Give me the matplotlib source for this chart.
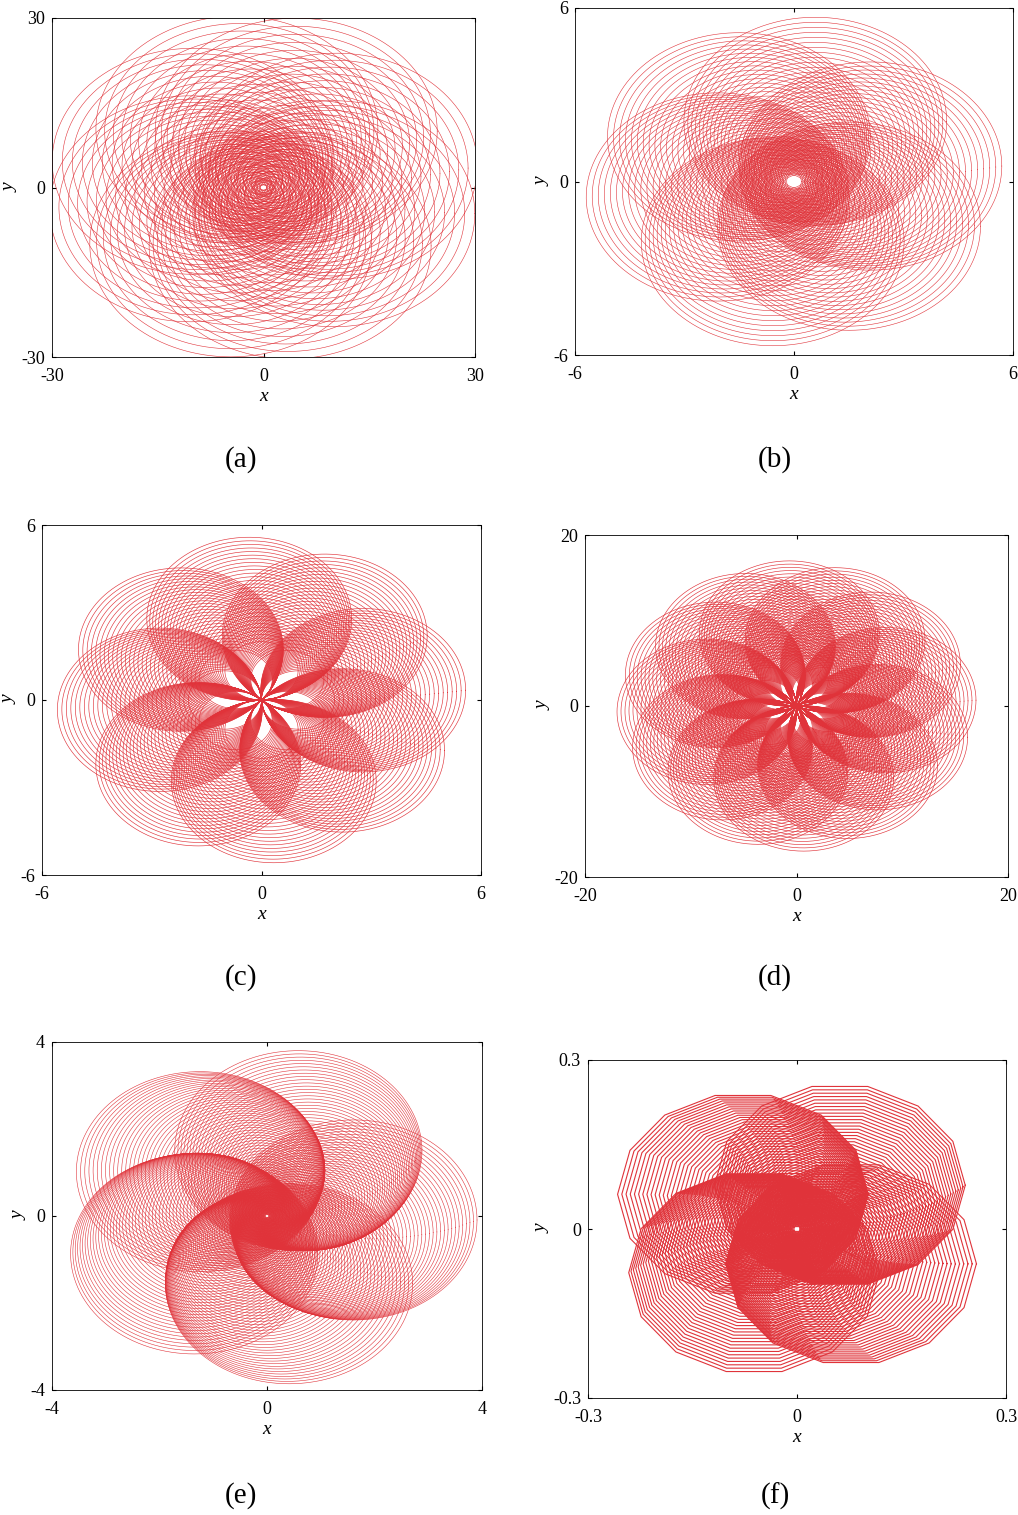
import numpy as np
import matplotlib
matplotlib.use("Agg")
import matplotlib.pyplot as plt

plt.rcParams['font.family'] = ['Liberation Serif', 'DejaVu Serif']
RED = '#e0333a'

# panel settings: limits, petals, radii range, center offset factor, twist, vertices
labels = ['(a)', '(b)', '(c)', '(d)', '(e)', '(f)']
limits = [30, 6, 6, 20, 4, 0.3]
petals = [8, 6, 8, 12, 5, 4]
rmin = [1.0, 0.5, 1.0, 3.0, 0.1, 0.01]
rmax = [20.0, 3.6, 2.8, 8.5, 2.3, 0.18]
offset = [0.55, 0.6, 1.0, 1.0, 0.7, 0.55]
twist = [0.35, 0.25, 0.12, 0.08, 1.2, 0.9]
nloops = [22, 30, 30, 30, 60, 50]
nverts = [400, 400, 400, 400, 400, 14]
lw = [0.4, 0.4, 0.45, 0.45, 0.4, 0.8]

boxes = [(52, 18, 475, 357), (575, 8, 1013, 355), (42, 525, 481, 875),
         (585, 535, 1008, 877), (52, 1042, 482, 1390), (588, 1060, 1006, 1398)]
caps = [(241, 460), (775, 460), (241, 978), (775, 978), (241, 1496), (775, 1496)]
W, H = 1018, 1515
fig = plt.figure(figsize=(W/100, H/100), dpi=100)

for i in range(6):
    x0, y0, x1, y1 = boxes[i]
    ax = fig.add_axes([x0/W, 1-y1/H, (x1-x0)/W, (y1-y0)/H])
    L = limits[i]
    n = petals[i]
    t = np.linspace(0, 2*np.pi, nverts[i]+1)
    for k in range(n):
        for j in range(nloops[i]):
            f = j/(nloops[i]-1)
            r = rmin[i] + (rmax[i]-rmin[i])*f
            th = 2*np.pi*k/n + twist[i]*f
            c = offset[i]*r
            cx, cy = c*np.cos(th), c*np.sin(th)
            ax.plot(cx + r*np.cos(t), cy + r*np.sin(t), color=RED, lw=lw[i])
    ax.set_xlim(-L, L); ax.set_ylim(-L, L)
    tl = [f'{-L:g}', '0', f'{L:g}']
    ax.set_xticks([-L, 0, L]); ax.set_xticklabels(tl)
    ax.set_yticks([-L, 0, L]); ax.set_yticklabels(tl)
    ax.tick_params(direction='in', labelsize=13, length=3, top=True, right=True)
    ax.tick_params(axis='x', pad=8)
    ax.tick_params(axis='y', pad=5)
    for s in ax.spines.values():
        s.set_linewidth(0.6)
    ax.set_xlabel('x', style='italic', fontsize=14, labelpad=2)
    ax.set_ylabel('y', style='italic', fontsize=14, labelpad=2)
    fig.text(caps[i][0]/W, 1-caps[i][1]/H, labels[i], ha='center', va='center', fontsize=21)

fig.savefig('out.png', dpi=100)
